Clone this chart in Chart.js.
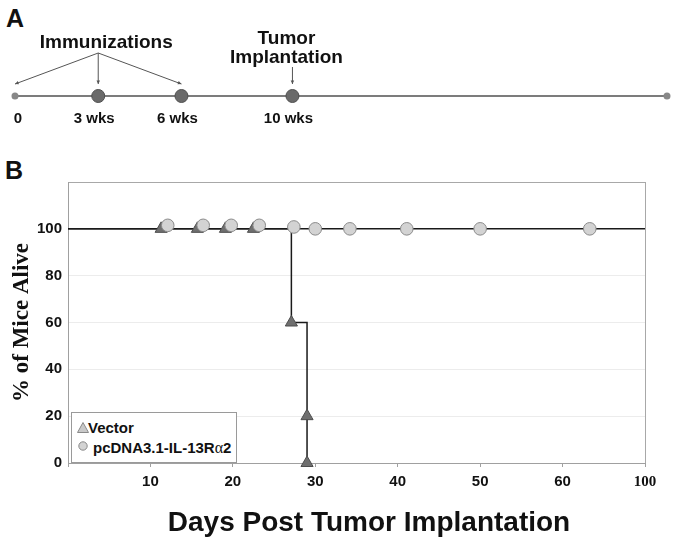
<!DOCTYPE html>
<html>
<head>
<meta charset="utf-8">
<title>Immunization schedule and survival</title>
<script src="https://cdn.jsdelivr.net/npm/chart.js@4.4.1/dist/chart.umd.min.js"></script>
<style>
    body { margin: 0; background: #fff; }
    #page { position: relative; width: 675px; height: 543px; overflow: hidden; font-family: "Liberation Sans", Arial, sans-serif; color: #111; }
    .panel-letter { position: absolute; font-weight: bold; font-size: 25px; line-height: 28px; }
    #timelineWrap { position: absolute; left: 0; top: 0; width: 675px; height: 140px; }
    #survivalWrap { position: absolute; left: 0; top: 140px; width: 675px; height: 403px; }
    #xTitle { position: absolute; left: 369px; top: 505px; transform: translateX(-50%); white-space: nowrap; font-weight: bold; font-size: 28px; line-height: 34px; }
    #legendBox { position: absolute; left: 71px; top: 412px; width: 166px; height: 51px; box-sizing: border-box; border: 1px solid #9a9a9a; background: #fff; }
    #legendBox .item { position: absolute; font-weight: bold; font-size: 15px; line-height: 17px; white-space: nowrap; }
    #legendBox svg { position: absolute; }
    .alpha { font-family: "Liberation Serif", "Times New Roman", serif; font-weight: normal; font-size: 16px; }
</style>
</head>
<body>
<div id="page">
    <div class="panel-letter" style="left:6px; top:4px;">A</div>
    <div id="timelineWrap"><canvas id="timelineChart"></canvas></div>

    <div class="panel-letter" style="left:5px; top:156px;">B</div>
    <div id="survivalWrap"><canvas id="survivalChart"></canvas></div>

    <div id="legendBox">
        <svg width="12" height="11" style="left:5px; top:9px;"><polygon points="6,0.5 11.5,10.5 0.5,10.5" fill="#c9c9c9" stroke="#8a8a8a" stroke-width="1"/></svg>
        <span class="item" style="left:16px; top:6px;">Vector</span>
        <svg width="10" height="10" style="left:6px; top:28px;"><circle cx="5" cy="5" r="4.2" fill="#d3d3d3" stroke="#8a8a8a" stroke-width="1"/></svg>
        <span class="item" style="left:21px; top:26px;">pcDNA3.1-IL-13R<span class="alpha">α</span>2</span>
    </div>

    <div id="xTitle">Days Post Tumor Implantation</div>
</div>

<script>
// --- Panel A: immunization schedule (weeks) ---
const timelineWeeks = [0, 3, 6, 10];
const timelineLabels = ['0', '3 wks', '6 wks', '10 wks'];
const immunizationWeeks = [0, 3, 6];
const tumorWeek = 10;
const timelineEnd = 23.5;

// --- Panel B: survival (days post tumor implantation, % alive) ---
const vectorStepDays = [0, 27.1, 29.0];
const vectorStepSurvival = [100, 60, 0];
const vectorMarkDays = [11.3, 15.7, 19.1, 22.5, 27.1, 29.0, 29.0];
const vectorMarkSurvival = [100, 100, 100, 100, 60, 20, 0];

const il13StepDays = [0, 70];
const il13StepSurvival = [100, 100];
const il13MarkDays = [12.1, 16.4, 19.8, 23.2, 27.4, 30.0, 34.2, 41.1, 50.0, 63.3];
const il13MarkSurvival = [101.5, 101.5, 101.5, 101.5, 100.8, 100, 100, 100, 100, 100];

const xTickValues = [10, 20, 30, 40, 50, 60, 70];
const xTickLabels = ['10', '20', '30', '40', '50', '60', '100'];
const yTickValues = [0, 20, 40, 60, 80, 100];

const SANS = '"Liberation Sans", Arial, sans-serif';
const SERIF = '"Liberation Serif", "Times New Roman", serif';

// Turn two parallel arrays into {x, y} points
function toPoints(xs, ys) {
    return xs.map((x, i) => ({ x: x, y: ys[i] }));
}

// --- Small arrow helper for the timeline ---
function drawArrow(ctx, x1, y1, x2, y2) {
    const angle = Math.atan2(y2 - y1, x2 - x1);
    const head = 4;
    ctx.beginPath();
    ctx.moveTo(x1, y1);
    ctx.lineTo(x2, y2);
    ctx.stroke();
    ctx.beginPath();
    ctx.moveTo(x2, y2);
    ctx.lineTo(x2 - head * Math.cos(angle - 0.45), y2 - head * Math.sin(angle - 0.45));
    ctx.lineTo(x2 - head * Math.cos(angle + 0.45), y2 - head * Math.sin(angle + 0.45));
    ctx.closePath();
    ctx.fill();
}

// Labels and arrows of panel A, placed from the chart's own scales
const timelineLabelsPlugin = {
    id: 'timelineLabels',
    afterDraw(chart) {
        const ctx = chart.ctx;
        const xs = chart.scales.x;
        const lineY = chart.scales.y.getPixelForValue(0);
        ctx.save();
        ctx.fillStyle = '#111';
        ctx.textAlign = 'center';
        ctx.textBaseline = 'alphabetic';

        ctx.font = 'bold 15px ' + SANS;
        timelineWeeks.forEach((w, i) => {
            ctx.fillText(timelineLabels[i], xs.getPixelForValue(w) + (i === 0 ? 3 : -4), lineY + 27);
        });

        // Immunizations: one apex, three arrows
        const apexX = xs.getPixelForValue(immunizationWeeks[1]);
        const apexY = lineY - 43;
        ctx.font = 'bold 19px ' + SANS;
        ctx.fillText('Immunizations', apexX + 8, lineY - 48);
        ctx.strokeStyle = '#555';
        ctx.fillStyle = '#555';
        ctx.lineWidth = 1;
        immunizationWeeks.forEach(w => {
            drawArrow(ctx, apexX, apexY, xs.getPixelForValue(w), lineY - 12);
        });

        // Tumor implantation
        const tumorX = xs.getPixelForValue(tumorWeek);
        ctx.fillStyle = '#111';
        ctx.fillText('Tumor', tumorX - 6, lineY - 52);
        ctx.fillText('Implantation', tumorX - 6, lineY - 33);
        ctx.fillStyle = '#555';
        drawArrow(ctx, tumorX, lineY - 29, tumorX, lineY - 12);
        ctx.restore();
    }
};

// --- Panel A chart ---
function renderTimeline() {
    const canvas = document.getElementById('timelineChart');
    new Chart(canvas, {
        type: 'scatter',
        data: {
            datasets: [
                {
                    data: toPoints(timelineWeeks.slice(1), [0, 0, 0]),
                    pointRadius: 6.5,
                    pointBackgroundColor: '#6a6a6a',
                    pointBorderColor: '#4f4f4f',
                    pointBorderWidth: 1,
                    showLine: false,
                    clip: false,
                    order: 0
                },
                {
                    data: toPoints([0, timelineEnd], [0, 0]),
                    pointRadius: 2.5,
                    pointBackgroundColor: '#888',
                    pointBorderColor: '#888',
                    showLine: true,
                    borderColor: '#7c7c7c',
                    borderWidth: 2,
                    clip: false,
                    order: 1
                }
            ]
        },
        options: {
            responsive: true,
            maintainAspectRatio: false,
            animation: false,
            events: [],
            layout: { padding: { left: 15, right: 8, top: 66, bottom: 14 } },
            scales: {
                x: { type: 'linear', min: 0, max: timelineEnd, display: false },
                y: { min: -1, max: 1, display: false }
            },
            plugins: { legend: { display: false }, tooltip: { enabled: false } }
        },
        plugins: [timelineLabelsPlugin]
    });
}

// --- Panel B chart ---
function renderSurvival() {
    const canvas = document.getElementById('survivalChart');
    new Chart(canvas, {
        type: 'scatter',
        data: {
            datasets: [
                {
                    label: 'pcDNA3.1-IL-13Rα2',
                    data: toPoints(il13MarkDays, il13MarkSurvival),
                    pointStyle: 'circle',
                    pointRadius: 6.3,
                    pointBackgroundColor: '#d3d3d3',
                    pointBorderColor: '#8a8a8a',
                    pointBorderWidth: 1,
                    showLine: false,
                    clip: false,
                    order: 0
                },
                {
                    label: 'Vector',
                    data: toPoints(vectorMarkDays, vectorMarkSurvival),
                    pointStyle: 'triangle',
                    pointRadius: 7,
                    pointBackgroundColor: '#6f6f6f',
                    pointBorderColor: '#4d4d4d',
                    pointBorderWidth: 1,
                    showLine: false,
                    clip: false,
                    order: 1
                },
                {
                    data: toPoints(vectorStepDays, vectorStepSurvival),
                    showLine: true,
                    stepped: true,
                    borderColor: '#1a1a1a',
                    borderWidth: 1.5,
                    pointRadius: 0,
                    clip: false,
                    order: 2
                },
                {
                    data: toPoints(il13StepDays, il13StepSurvival),
                    showLine: true,
                    borderColor: '#1a1a1a',
                    borderWidth: 1.5,
                    pointRadius: 0,
                    clip: false,
                    order: 3
                }
            ]
        },
        options: {
            responsive: true,
            maintainAspectRatio: false,
            animation: false,
            events: [],
            layout: { padding: { left: 0, right: 30, top: 42, bottom: 0 } },
            scales: {
                x: {
                    type: 'linear',
                    min: 0,
                    max: 70,
                    afterFit: scale => { scale.height = 80; },
                    afterBuildTicks: scale => {
                        scale.ticks = [0].concat(xTickValues).map(v => ({ value: v }));
                    },
                    border: { color: '#a0a0a0', width: 1 },
                    grid: {
                        color: c => (c.tick && c.tick.value === 70) ? '#a8a8a8' : 'rgba(0,0,0,0)',
                        tickColor: '#a0a0a0',
                        tickLength: 4,
                        drawTicks: true
                    },
                    ticks: {
                        padding: 6,
                        autoSkip: false,
                        maxRotation: 0,
                        color: '#111',
                        callback: v => {
                            const i = xTickValues.indexOf(v);
                            return i < 0 ? '' : xTickLabels[i];
                        },
                        font: c => ({
                            family: (c.tick && c.tick.value === 70) ? SERIF : SANS,
                            size: 15,
                            weight: 'bold'
                        })
                    }
                },
                y: {
                    min: 0,
                    max: 120,
                    afterFit: scale => { scale.width = 68; },
                    afterBuildTicks: scale => {
                        scale.ticks = yTickValues.concat([120]).map(v => ({ value: v }));
                    },
                    border: { color: '#a0a0a0', width: 1 },
                    grid: {
                        color: c => {
                            if (!c.tick) return '#ececec';
                            if (c.tick.value === 120) return '#a8a8a8';
                            if (c.tick.value === 0) return 'rgba(0,0,0,0)';
                            return '#ececec';
                        },
                        drawTicks: false
                    },
                    ticks: {
                        padding: 6,
                        color: '#111',
                        callback: v => (yTickValues.indexOf(v) < 0 ? '' : v),
                        font: { family: SANS, size: 15, weight: 'bold' }
                    },
                    title: {
                        display: true,
                        text: '% of Mice Alive',
                        color: '#111',
                        font: { family: SERIF, size: 23, weight: 'bold' },
                        padding: { top: 8, bottom: 0 }
                    }
                }
            },
            plugins: { legend: { display: false }, tooltip: { enabled: false } }
        }
    });
}

// --- Initialize on load ---
document.addEventListener('DOMContentLoaded', () => {
    renderTimeline();
    renderSurvival();
});
</script>
</body>
</html>
